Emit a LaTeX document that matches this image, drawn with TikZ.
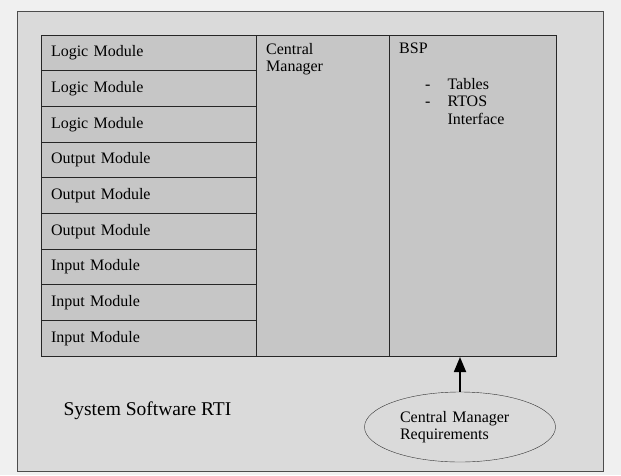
\documentclass[tikz,border=0pt]{standalone}
\usepackage{fontspec}
\setmainfont{Liberation Serif}
\usetikzlibrary{positioning,shapes.geometric,arrows.meta}
\definecolor{pagegray}{HTML}{F0F0F0}
\definecolor{boxgray}{HTML}{DADADA}
\definecolor{cellgray}{HTML}{C6C6C6}
\begin{document}
\begin{tikzpicture}[%
    x=1pt,
    y=-1pt,
    node distance=0pt,
    >={Triangle[length=15pt,width=12pt]},
    font=\fontsize{16}{17.5}\selectfont,
    module/.style={%
      rectangle,
      draw=black!85,
      line width=0.9pt,
      fill=cellgray,
      minimum width=215pt,
      minimum height=35.67pt,
      outer sep=0pt,
      inner sep=0pt,
      text width=195pt,
      align=left},
    column/.style={%
      rectangle,
      draw=black!85,
      line width=0.9pt,
      fill=cellgray,
      minimum height=321pt,
      outer sep=0pt,
      anchor=north west},
    lbl/.style={%
      anchor=north west,
      inner xsep=10pt,
      inner ysep=8pt,
      align=left}
    ]
    \useasboundingbox[fill=pagegray] (0,0) rectangle (621,475);
    \node[draw=black!70, line width=0.9pt, fill=boxgray, minimum width=586pt,
      minimum height=460pt, anchor=north west, outer sep=0pt] (rti) at (17,11) {};
    \node[module, anchor=north west] (m1) at (41,35) {Logic Module};
    \node[module] (m2) [below=of m1] {Logic Module};
    \node[module] (m3) [below=of m2] {Logic Module};
    \node[module] (m4) [below=of m3] {Output Module};
    \node[module] (m5) [below=of m4] {Output Module};
    \node[module] (m6) [below=of m5] {Output Module};
    \node[module] (m7) [below=of m6] {Input Module};
    \node[module] (m8) [below=of m7] {Input Module};
    \node[module] (m9) [below=of m8] {Input Module};
    \node[column, minimum width=133pt] (cm) at (m1.north east) {};
    \node[column, minimum width=167pt] (bsp) at (cm.north east) {};
    \node[lbl] (cmtext) at (cm.north west) {Central\\Manager};
    \node[lbl] (bsptext) at (bsp.north west) {BSP\\[18pt]%
      \begin{tabular}[t]{@{\hspace{26pt}}l@{\hspace{17pt}}l@{}}
        - & Tables\\
        - & RTOS\\
          & Interface
      \end{tabular}};
    \node[ellipse, draw=black!80, fill=boxgray, minimum width=191pt,
      minimum height=70pt, inner sep=0pt, text width=120pt, align=left] (req) at (460,427)
      {Central Manager\\Requirements};
    \draw[->, line width=1.8pt, shorten >=1pt] (req.north) -- (req.north |- bsp.south);
    \node[anchor=west, font=\fontsize{19.5}{22}\selectfont] (rtitext) at (60,411)
      {System Software RTI};
  \end{tikzpicture}
\end{document}
